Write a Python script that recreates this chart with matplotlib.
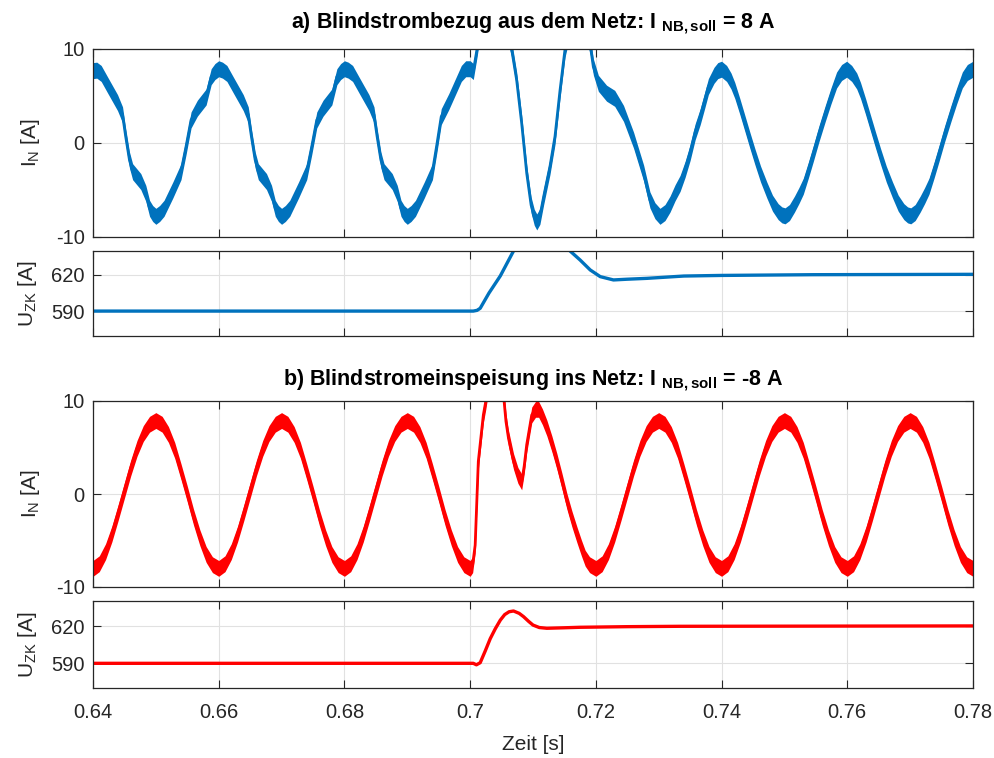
import numpy as np
import matplotlib
matplotlib.use("Agg")
import matplotlib.pyplot as plt

plt.rcParams['font.family'] = ['Liberation Sans', 'DejaVu Sans']
plt.rcParams['mathtext.fontset'] = 'custom'
plt.rcParams['mathtext.rm'] = 'Liberation Sans'
plt.rcParams['mathtext.it'] = 'Liberation Sans:italic'
plt.rcParams['mathtext.bf'] = 'Liberation Sans:bold'

# ---- a) Netzstrom (blau) ----
t_ia = [0.6400, 0.6406, 0.6413, 0.6423, 0.6439, 0.6447, 0.6452, 0.6458, 0.6463, 0.6476, 0.6484, 0.6490,
        0.6495, 0.6500, 0.6506, 0.6513, 0.6527, 0.6540, 0.6548, 0.6556, 0.6566, 0.6580, 0.6588, 0.6594,
        0.6600, 0.6606, 0.6613, 0.6623, 0.6639, 0.6647, 0.6652, 0.6658, 0.6663, 0.6676, 0.6684, 0.6690,
        0.6695, 0.6700, 0.6706, 0.6713, 0.6727, 0.6740, 0.6748, 0.6756, 0.6766, 0.6780, 0.6788, 0.6794,
        0.6800, 0.6806, 0.6813, 0.6823, 0.6839, 0.6847, 0.6852, 0.6858, 0.6863, 0.6876, 0.6884, 0.6890,
        0.6895, 0.6900, 0.6906, 0.6913, 0.6927, 0.6940, 0.6947, 0.6954, 0.6966, 0.6978, 0.6986, 0.6993,
        0.7000, 0.7005, 0.7011, 0.7020, 0.7035, 0.7055, 0.7066, 0.7074, 0.7082, 0.7090, 0.7097, 0.7102,
        0.7106, 0.7111, 0.7117, 0.7127, 0.7135, 0.7143, 0.7151, 0.7165, 0.7178, 0.7192, 0.7196, 0.7204,
        0.7217, 0.7230, 0.7244, 0.7260, 0.7276, 0.7286, 0.7294,
        0.7302, 0.7310, 0.7318, 0.7326, 0.7334, 0.7342, 0.7350, 0.7358, 0.7366, 0.7373, 0.7379, 0.7388,
        0.7394, 0.7400, 0.7408, 0.7415, 0.7421, 0.7429, 0.7437, 0.7445, 0.7453, 0.7462, 0.7472, 0.7481,
        0.7490, 0.7496, 0.7501, 0.7508, 0.7516, 0.7523, 0.7530, 0.7538, 0.7546, 0.7555, 0.7565, 0.7574,
        0.7583, 0.7591, 0.7599, 0.7607, 0.7615, 0.7621, 0.7629, 0.7637, 0.7645, 0.7653, 0.7662, 0.7672,
        0.7681, 0.7690, 0.7696, 0.7701, 0.7708, 0.7716, 0.7723, 0.7730, 0.7738, 0.7746, 0.7755, 0.7765,
        0.7774, 0.7783, 0.7791, 0.7800]
i_a = [7.7, 7.75, 7.4, 6.2, 4.3, 3.0, 0.7, -1.8, -3.05, -4.1, -5.35, -6.95,
       -7.5, -7.8, -7.5, -6.95, -5.0, -3.05, -0.4, 2.45, 3.7, 4.9, 7.05, 7.6,
       7.9, 7.75, 7.4, 6.2, 4.3, 3.0, 0.7, -1.8, -3.05, -4.1, -5.35, -6.95,
       -7.5, -7.8, -7.5, -6.95, -5.0, -3.05, -0.4, 2.45, 3.7, 4.9, 7.05, 7.6,
       7.9, 7.75, 7.4, 6.2, 4.3, 3.0, 0.7, -1.8, -3.05, -4.1, -5.35, -6.95,
       -7.5, -7.8, -7.5, -6.95, -5.0, -3.05, -0.2, 2.8, 4.4, 6.2, 7.4, 7.9,
       7.9, 7.6, 10.0, 14.0, 16.0, 13.0, 10.0, 6.7, 2.1, -3.2, -6.6, -7.9,
       -8.4, -7.8, -5.7, -2.5, 0.7, 5.6, 10.0, 14.0, 14.0, 10.0, 8.1, 6.35,
       5.3, 4.75, 3.15, 0.3, -3.2, -6.05, -7.2,
       -7.8, -7.4, -6.5, -5.3, -4.3, -2.8, -1.0, 1.2, 2.8, 4.5, 6.0, 7.2,
       7.7, 7.85, 7.4, 6.6, 5.6, 3.9, 2.1, 0.3, -1.45, -3.3, -5.0, -6.4,
       -7.3, -7.65, -7.75, -7.4, -6.5, -5.6, -4.6, -2.9, -1.1, 1.0, 3.15, 5.0,
       6.7, 7.5, 7.85, 7.4, 6.6, 5.6, 3.9, 2.1, 0.3, -1.45, -3.3, -5.0,
       -6.4, -7.3, -7.65, -7.75, -7.4, -6.5, -5.6, -4.6, -2.9, -1.1, 1.0, 3.15,
       5.0, 6.7, 7.5, 7.85]

# ---- a) Zwischenkreisspannung ----
t_ua = [0.6400, 0.7005, 0.7011, 0.7016, 0.7030, 0.7048, 0.7069, 0.7085, 0.7110, 0.7135, 0.7150, 0.7159,
        0.7175, 0.7191, 0.7207, 0.7228, 0.7250, 0.7281, 0.7340, 0.7400, 0.7546, 0.7800]
u_a = [590.2, 590.2, 590.8, 592.5, 605.0, 619.0, 639.4, 648.0, 652.0, 648.0, 643.0, 639.4,
       632.0, 623.9, 618.4, 615.7, 616.3, 617.0, 618.9, 619.4, 620.0, 620.3]

# ---- b) Netzstrom (rot) ----
t_ib = [0.6400, 0.6410, 0.6420, 0.6430, 0.6440, 0.6450, 0.6460, 0.6470, 0.6480, 0.6490, 0.6500, 0.6510,
        0.6520, 0.6530, 0.6540, 0.6550, 0.6560, 0.6570, 0.6580, 0.6590,
        0.6600, 0.6610, 0.6620, 0.6630, 0.6640, 0.6650, 0.6660, 0.6670, 0.6680, 0.6690, 0.6700, 0.6710,
        0.6720, 0.6730, 0.6740, 0.6750, 0.6760, 0.6770, 0.6780, 0.6790,
        0.6800, 0.6810, 0.6820, 0.6830, 0.6840, 0.6850, 0.6860, 0.6870, 0.6880, 0.6890, 0.6900, 0.6910,
        0.6920, 0.6930, 0.6940, 0.6950, 0.6960, 0.6970, 0.6980, 0.6990,
        0.7000, 0.7004, 0.7008, 0.7013, 0.7021, 0.7025, 0.7033, 0.7040, 0.7048, 0.7054, 0.7057, 0.7061,
        0.7069, 0.7076, 0.7082, 0.7086, 0.7090, 0.7098, 0.7104, 0.7109, 0.7115, 0.7122, 0.7130, 0.7138,
        0.7146, 0.7154, 0.7162, 0.7170, 0.7177, 0.7183, 0.7190,
        0.7200, 0.7210, 0.7220, 0.7230, 0.7240, 0.7250, 0.7260, 0.7270, 0.7280, 0.7290, 0.7300, 0.7310,
        0.7320, 0.7330, 0.7340, 0.7350, 0.7360, 0.7370, 0.7380, 0.7390,
        0.7400, 0.7410, 0.7420, 0.7430, 0.7440, 0.7450, 0.7460, 0.7470, 0.7480, 0.7490, 0.7500, 0.7510,
        0.7520, 0.7530, 0.7540, 0.7550, 0.7560, 0.7570, 0.7580, 0.7590,
        0.7600, 0.7610, 0.7620, 0.7630, 0.7640, 0.7650, 0.7660, 0.7670, 0.7680, 0.7690, 0.7700, 0.7710,
        0.7720, 0.7730, 0.7740, 0.7750, 0.7760, 0.7770, 0.7780, 0.7790, 0.7800]
i_b = [-8.0, -7.5, -6.2, -4.3, -2.0, 0.4, 2.8, 4.9, 6.5, 7.5, 7.9, 7.5,
       6.4, 4.7, 2.4, 0.0, -2.5, -4.7, -6.5, -7.6,
       -8.0, -7.5, -6.2, -4.3, -2.0, 0.4, 2.8, 4.9, 6.5, 7.5, 7.9, 7.5,
       6.4, 4.7, 2.4, 0.0, -2.5, -4.7, -6.5, -7.6,
       -8.0, -7.5, -6.2, -4.3, -2.0, 0.4, 2.8, 4.9, 6.5, 7.5, 7.9, 7.5,
       6.4, 4.7, 2.4, 0.0, -2.5, -4.7, -6.5, -7.6,
       -8.0, -7.6, -5.5, 3.5, 8.5, 10.0, 13.5, 14.5, 13.0, 10.0, 7.8, 6.0,
       3.5, 2.0, 1.3, 3.0, 5.3, 8.5, 9.1, 9.1, 8.3, 7.1, 5.4, 3.5,
       1.4, -0.8, -2.7, -4.4, -5.8, -6.9, -7.6,
       -8.0, -7.5, -6.2, -4.3, -2.0, 0.4, 2.8, 4.9, 6.5, 7.5, 7.9, 7.5,
       6.4, 4.7, 2.4, 0.0, -2.5, -4.7, -6.5, -7.6,
       -8.0, -7.5, -6.2, -4.3, -2.0, 0.4, 2.8, 4.9, 6.5, 7.5, 7.9, 7.5,
       6.4, 4.7, 2.4, 0.0, -2.5, -4.7, -6.5, -7.6,
       -8.0, -7.5, -6.2, -4.3, -2.0, 0.4, 2.8, 4.9, 6.5, 7.5, 7.9, 7.5,
       6.4, 4.7, 2.4, 0.0, -2.5, -4.7, -6.5, -7.6, -8.0]

# ---- b) Zwischenkreisspannung ----
t_ub = [0.6400, 0.7005, 0.7010, 0.7016, 0.7024, 0.7032, 0.7040, 0.7048, 0.7055, 0.7062, 0.7069, 0.7078,
        0.7085, 0.7093, 0.7100, 0.7110, 0.7122, 0.7150, 0.7175, 0.7250, 0.7334, 0.7800]
u_b = [590.0, 590.0, 588.8, 590.5, 600.0, 610.0, 618.0, 625.0, 629.5, 631.8, 632.4, 630.5,
       627.8, 624.0, 621.0, 619.0, 618.4, 618.8, 619.2, 619.7, 620.0, 620.3]

RIPPLE = 0.85          # Schaltripple (Bandbreite) in A
BLUE = '#0072BD'
RED = '#FF0000'
XTICKS = [0.64, 0.66, 0.68, 0.70, 0.72, 0.74, 0.76, 0.78]
XTICKLABELS = ['0.64', '0.66', '0.68', '0.7', '0.72', '0.74', '0.76', '0.78']

fig = plt.figure(figsize=(9.95, 7.58), dpi=100)

L, W = 93 / 995, 880 / 995
ax1 = fig.add_axes([L, 1 - 237 / 758, W, 188 / 758])
ax2 = fig.add_axes([L, 1 - 336 / 758, W, 85 / 758])
ax3 = fig.add_axes([L, 1 - 587 / 758, W, 186 / 758])
ax4 = fig.add_axes([L, 1 - 688 / 758, W, 87 / 758])


def style(ax, yticks, ylim, ylabel, labelx, show_x):
    ax.set_xlim(0.64, 0.78)
    ax.set_ylim(*ylim)
    ax.set_xticks(XTICKS)
    ax.set_yticks(yticks)
    ax.set_yticklabels([str(v) for v in yticks])
    if show_x:
        ax.set_xticklabels(XTICKLABELS)
    else:
        ax.set_xticklabels([])
    ax.grid(True, color='#e1e1e1', lw=0.8)
    ax.set_axisbelow(True)
    ax.tick_params(direction='in', length=6, width=0.8, top=True, right=True,
                   colors='#262626', labelsize=14.5, pad=6)
    ax.tick_params(axis='x', pad=11)
    for s in ax.spines.values():
        s.set_color('#262626')
        s.set_linewidth(0.9)
    ax.set_ylabel(ylabel, fontsize=15, color='#262626')
    ax.yaxis.set_label_coords(labelx, 0.5)


t = np.array(t_ia)
y = np.array(i_a)
ax1.fill_between(t, y - RIPPLE, y + RIPPLE, color=BLUE, lw=0)
ax1.plot(t, y, color=BLUE, lw=2)
style(ax1, [-10, 0, 10], (-10, 10), r'I$_\mathrm{N}$ [A]', -0.058, False)
ax1.set_title(r'a) Blindstrombezug aus dem Netz: I $_{\mathbf{NB,soll}}$ = 8 A',
              fontsize=15.5, fontweight='bold', color='black', pad=15.5)

ax2.plot(t_ua, u_a, color=BLUE, lw=2.4)
style(ax2, [590, 620], (569.8, 639.4), r'U$_\mathrm{ZK}$ [A]', -0.061, False)

t = np.array(t_ib)
y = np.array(i_b)
ax3.fill_between(t, y - RIPPLE, y + RIPPLE, color=RED, lw=0)
ax3.plot(t, y, color=RED, lw=2)
style(ax3, [-10, 0, 10], (-10, 10), r'I$_\mathrm{N}$ [A]', -0.058, False)
ax3.set_title(r'b) Blindstromeinspeisung ins Netz: I $_{\mathbf{NB,soll}}$ = -8 A',
              fontsize=15.5, fontweight='bold', color='black', pad=11.5)

ax4.plot(t_ub, u_b, color=RED, lw=2.4)
style(ax4, [590, 620], (570, 640.5), r'U$_\mathrm{ZK}$ [A]', -0.061, True)
ax4.set_xlabel('Zeit [s]', fontsize=15, color='#262626', labelpad=9)

fig.savefig('out.png', dpi=100)
